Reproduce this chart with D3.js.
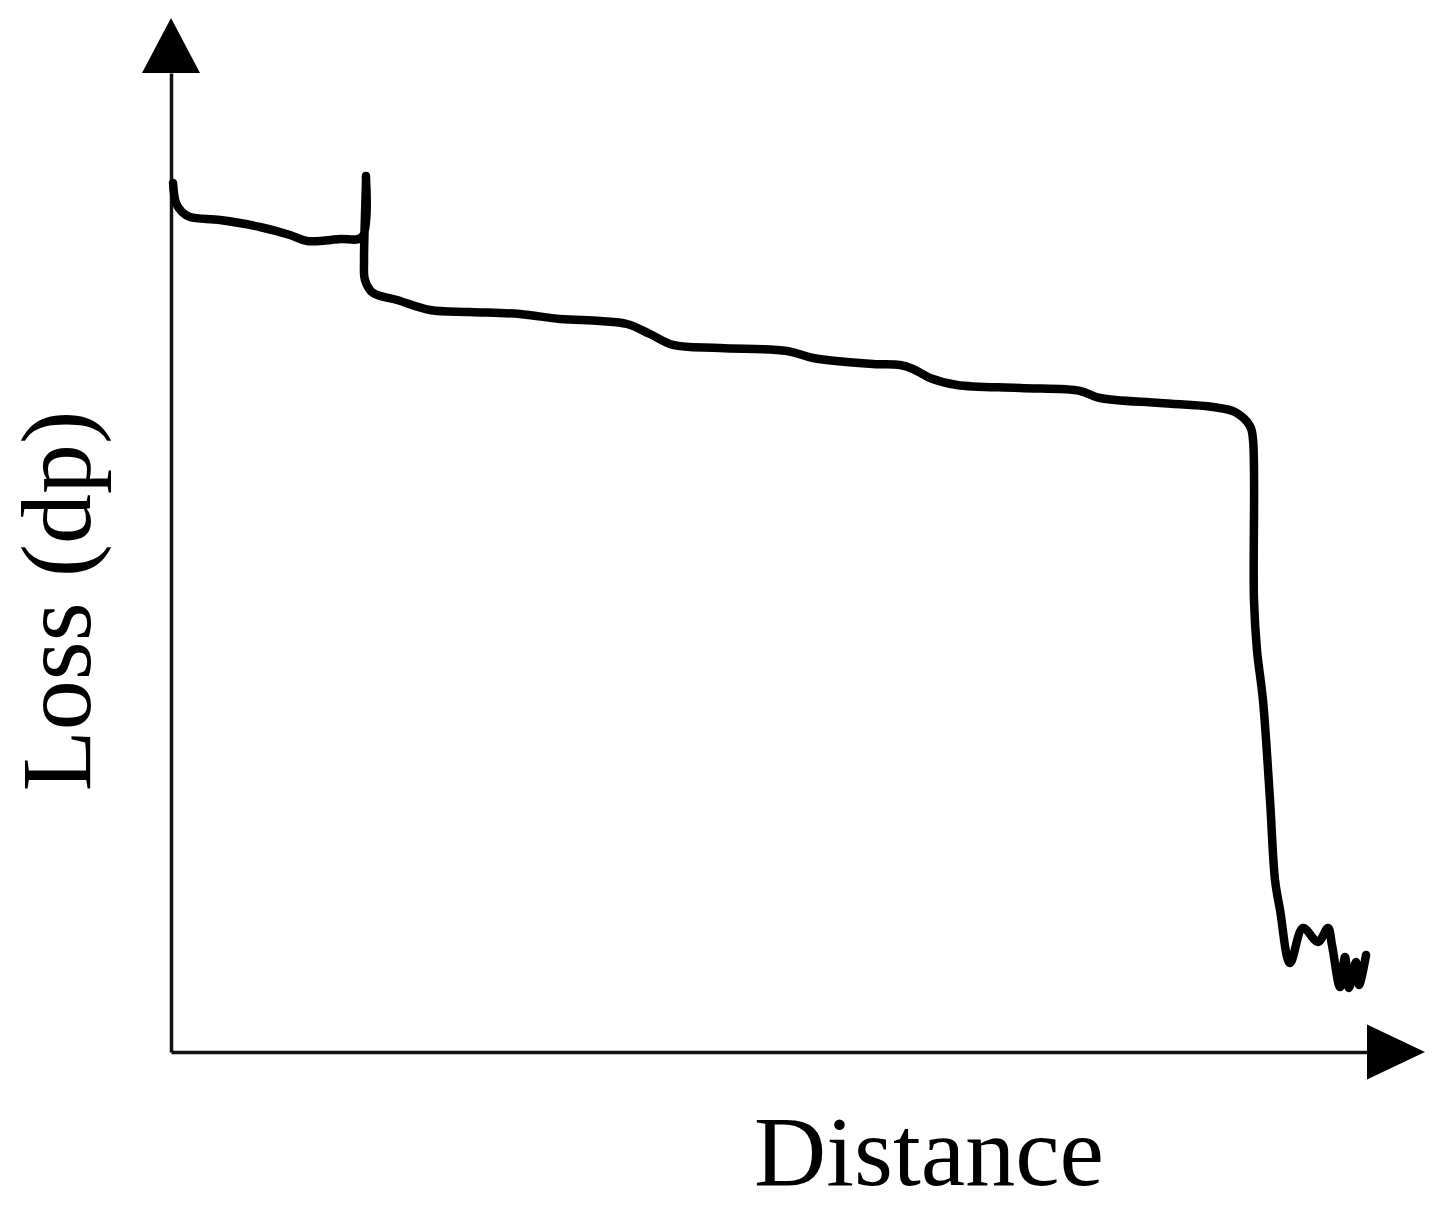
<!DOCTYPE html>
<html>
<head>
<meta charset="utf-8">
<script src="https://cdn.jsdelivr.net/npm/d3@7"></script>
<style>
  html, body { margin: 0; padding: 0; background: #fff; }
  svg { display: block; }
</style>
</head>
<body>
<svg id="chart" width="1439" height="1213"></svg>
<script>
// Distance (arbitrary units, 0-100 across the x axis)
const distance = [0.17, 0.42, 0.92, 1.59, 4.10, 7.44, 9.95, 11.37, 14.13, 15.97,
  16.30, 16.14, 16.22, 16.89, 18.90, 21.66, 25.00, 29.18, 32.53, 35.87,
  38.13, 40.05, 41.97, 45.90, 51.51, 53.68, 58.70, 60.95, 62.04, 63.46,
  65.72, 70.99, 76.00, 77.68, 82.69, 87.12, 88.96, 90.22, 90.47, 90.55,
  90.80, 91.30, 91.89, 92.31, 92.73, 93.56, 94.65, 95.90, 96.74, 97.07,
  97.74, 98.16, 98.49, 99.08, 99.33, 99.92];
// Loss (arbitrary units, 0-100 up the y axis)
const loss = [88.76, 86.72, 85.80, 85.29, 84.98, 84.27, 83.45, 82.84, 83.04, 83.25,
  89.48, 80.90, 78.86, 77.53, 76.81, 75.79, 75.59, 75.38, 74.87, 74.67,
  74.36, 73.34, 72.22, 71.91, 71.60, 70.89, 70.28, 70.17, 69.77, 68.85,
  68.13, 67.82, 67.52, 66.80, 66.29, 65.88, 65.37, 63.94, 62.51, 46.17,
  41.06, 35.96, 25.74, 17.57, 14.50, 9.09, 12.67, 11.24, 12.67, 10.93,
  6.64, 9.70, 6.54, 9.19, 6.84, 9.91];
const xLabel = "Distance";
const yLabel = "Loss (dp)";

const svg = d3.select("#chart");
const x = d3.scaleLinear().domain([0, 100]).range([171, 1367]);
const y = d3.scaleLinear().domain([0, 100]).range([1052, 73]);

// axes (no ticks)
const gx = svg.append("g").attr("transform", `translate(0,${y(0)})`)
  .call(d3.axisBottom(x).tickValues([]).tickSizeOuter(0));
const gy = svg.append("g").attr("transform", `translate(${x(0)},0)`)
  .call(d3.axisLeft(y).tickValues([]).tickSizeOuter(0));
[gx, gy].forEach(g => g.select(".domain").attr("stroke", "#111").attr("stroke-width", 3.5));

// arrowheads
const yTop = y(100), xEnd = x(100);
svg.append("path")
  .attr("d", `M${x(0) - 29},${yTop} L${x(0) + 29},${yTop} L${x(0)},${yTop - 55} Z`)
  .attr("fill", "#000");
svg.append("path")
  .attr("d", `M${xEnd},${y(0) - 27.5} L${xEnd},${y(0) + 27.5} L${xEnd + 58},${y(0)} Z`)
  .attr("fill", "#000");

// data line
const pts = distance.map((d, i) => [d, loss[i]]);
const line = d3.line().x(d => x(d[0])).y(d => y(d[1])).curve(d3.curveCatmullRom.alpha(0.5));
svg.append("path")
  .attr("d", line(pts))
  .attr("fill", "none")
  .attr("stroke", "#000")
  .attr("stroke-width", 8.5)
  .attr("stroke-linejoin", "round")
  .attr("stroke-linecap", "round");

// labels
svg.append("text")
  .attr("x", 929).attr("y", 1185)
  .attr("text-anchor", "middle")
  .attr("font-family", "'Liberation Serif', 'Times New Roman', serif")
  .attr("font-size", 100)
  .attr("fill", "#000")
  .text(xLabel);
svg.append("text")
  .attr("transform", "translate(90,601) rotate(-90)")
  .attr("text-anchor", "middle")
  .attr("font-family", "'Liberation Serif', 'Times New Roman', serif")
  .attr("font-size", 100)
  .attr("fill", "#000")
  .text(yLabel);
</script>
</body>
</html>
